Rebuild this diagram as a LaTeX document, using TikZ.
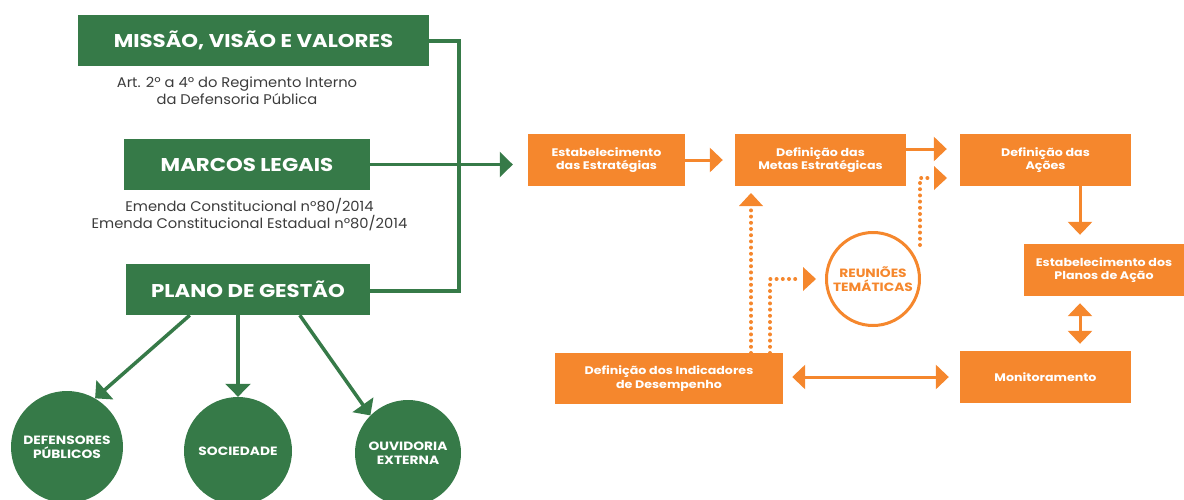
\documentclass[tikz,border=0pt]{standalone}
\usepackage{fontspec}
\setmainfont{Poppins}[FakeStretch=1.15]
\newfontfamily\subfont{Poppins}[FakeStretch=1.05]
\usetikzlibrary{arrows.meta,calc}
\definecolor{dgreen}{RGB}{54,122,72}
\definecolor{orng}{RGB}{245,135,45}
\definecolor{gtext}{RGB}{60,60,60}
\tikzset{
  gbox/.style={fill=dgreen, text=white, inner sep=0pt, font=\fontsize{18.5}{20}\selectfont\bfseries},
  gcirc/.style={circle, fill=dgreen, text=white, inner sep=0pt, align=center, font=\fontsize{12}{14}\selectfont\bfseries},
  obox/.style={fill=orng, text=white, inner sep=0pt, align=center, font=\fontsize{11}{13.5}\selectfont\bfseries},
  sub/.style={text=gtext, align=center, inner sep=0pt, font=\subfont\fontsize{14}{17}\selectfont},
  gline/.style={draw=dgreen, line width=3.5pt},
  garrow/.style={gline, -{Triangle[length=13pt,width=25pt]}},
  oline/.style={draw=orng, line width=3pt},
  oarrow/.style={oline, -{Triangle[length=13pt,width=24pt]}},
  odarrow/.style={oline, {Triangle[length=13pt,width=24pt]}-{Triangle[length=13pt,width=24pt]}},
  odot/.style={draw=orng, line width=4pt, line cap=round, dash pattern=on 0pt off 6.2pt},
}
\begin{document}
\begin{tikzpicture}[x=1pt,y=-1pt]
\useasboundingbox (0,0) rectangle (1184,499);
% green boxes
\node[gbox, minimum width=351pt, minimum height=51pt] (mvv) at (253.5,40.5) {MISSÃO, VISÃO E VALORES};
\node[gbox, minimum width=246pt, minimum height=51pt] (ml) at (247,164.5) {MARCOS LEGAIS};
\node[gbox, minimum width=244pt, minimum height=51pt] (pg) at (248,289.5) {PLANO DE GESTÃO};
\node[sub] (s1) at (237,91) {Art. 2º a 4º do Regimento Interno\\da Defensoria Pública};
\node[sub] (s2) at (249.5,215) {Emenda Constitucional nº80/2014\\Emenda Constitucional Estadual nº80/2014};
% green circles
\node[gcirc, minimum size=112pt] (dp) at (67,447) {DEFENSORES\\PÚBLICOS};
\node[gcirc, minimum size=108pt] (so) at (238,451) {SOCIEDADE};
\node[gcirc, minimum size=106pt] (ov) at (408,453) {OUVIDORIA\\EXTERNA};
% orange boxes
\node[obox, minimum width=157pt, minimum height=52pt] (ee) at (606.5,160) {Estabelecimento\\das Estratégias};
\node[obox, minimum width=171pt, minimum height=52pt] (dm) at (820.5,160) {Definição das\\Metas Estratégicas};
\node[obox, minimum width=171pt, minimum height=52pt] (da) at (1045.5,160) {Definição das\\Ações};
\node[obox, minimum width=160pt, minimum height=52pt] (pa) at (1104,270) {Estabelecimento dos\\Planos de Ação};
\node[obox, minimum width=171pt, minimum height=52pt] (mo) at (1045.5,377) {Monitoramento};
\node[obox, minimum width=228pt, minimum height=51pt] (di) at (669,378.5) {Definição dos Indicadores\\de Desempenho};
\node[circle, draw=orng, line width=3pt, minimum size=93pt, inner sep=0pt, align=center, text=orng, font=\fontsize{12}{14}\selectfont\bfseries] (re) at (873,279) {REUNIÕES\\TEMÁTICAS};
% green connectors
\coordinate (c1) at (459,41);
\coordinate (c2) at (459,291);
\draw[gline] (mvv.east |- c1) -- (c1) -- (c2) -- (pg.east |- c2);
\coordinate (gt) at ($(ee.west |- ml.east)+(-15,0)$);
\draw[garrow] (ml.east) -- (gt);
\draw[garrow] ($(pg.south west)+(64,0)$) -- (dp.60);
\draw[garrow] (pg.south -| so.north) -- (so.north);
\draw[garrow] ($(pg.south west)+(174,0)$) -- (ov.north west);
% orange connectors
\draw[oarrow] (ee.east) -- ($(dm.west)+(-12,0)$);
\draw[oarrow] ($(dm.east)+(0,-11)$) -- ($(da.west)+(-13,-11)$);
\coordinate (r1) at (920,245);
\coordinate (r2) at (920,178);
\draw[odot] (r1) -- (r2) -- ($(r2)+(12,0)$);
\draw[draw=none, fill=orng] (947,178) -- (934,166) -- (934,190) -- cycle;
\draw[oarrow] (da.south -| 1080,0) -- ($(pa.north -| 1080,0)+(0,-9)$);
\draw[odarrow] ($(pa.south -| 1080,0)+(0,7)$) -- ($(mo.north -| 1080,0)+(0,-7)$);
\draw[odarrow] ($(di.east)+(9,-1.5)$) -- ($(mo.west)+(-11,0)$);
% dotted from indicadores
\coordinate (d1) at (751,353);
\coordinate (d2) at (751,208);
\draw[odot] (d1) -- (d2);
\draw[draw=none, fill=orng] (751,193) -- (739,206) -- (763,206) -- cycle;
\coordinate (e1) at (770,353);
\coordinate (e2) at (770,279);
\draw[odot] (e1) -- (e2) -- (801,279);
\draw[draw=none, fill=orng] (816,279) -- (803,267) -- (803,291) -- cycle;
\end{tikzpicture}
\end{document}
